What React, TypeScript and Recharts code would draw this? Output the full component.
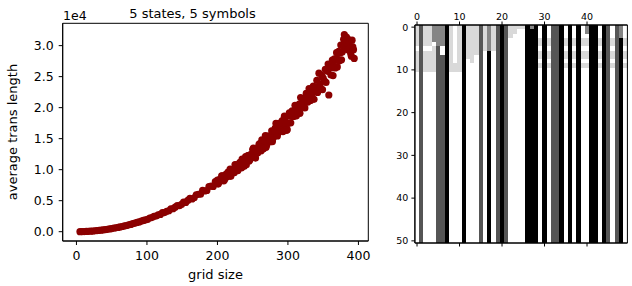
import React from 'react';
import { ScatterChart, Scatter, XAxis, YAxis, ReferenceArea } from 'recharts';

const gridSizes = [
  5, 8, 11, 14, 17, 20, 23, 26, 29, 32, 35, 38, 41, 44, 47, 50, 53, 56, 59, 62,
  65, 68, 71, 74, 77, 80, 83, 86, 89, 92, 95, 98, 101, 104, 107, 110, 113, 116, 119, 122,
  125, 128, 131, 134, 137, 140, 143, 146, 149, 152, 155, 158, 161, 164, 167, 170, 173, 176, 179, 182,
  185, 188, 191, 194, 197,
  200, 202, 204, 206, 208, 210, 212, 214, 216, 218, 220, 222, 224, 226, 228, 230, 232, 234, 236, 238,
  240, 242, 244, 246, 248, 250, 252, 254, 256, 258, 260, 262, 264, 266, 268, 270, 272, 274, 276, 278,
  280, 282, 284, 286, 288, 290, 292, 294, 296, 298,
  300, 301, 302, 304, 305, 306, 308, 309, 310, 312,
  313, 314, 316, 317, 318, 320, 321, 322, 324, 325,
  326, 328, 329, 330, 332, 333, 334, 336, 337, 338,
  340, 341, 342, 344, 345, 346, 348, 349, 350, 352,
  353, 354, 356, 357, 358, 360, 361, 362, 363, 364,
  365, 366, 367, 368, 369, 370, 371, 372, 373, 374, 375, 376, 377, 378, 379, 380, 381, 382, 383, 384,
  385, 386, 387, 388, 389, 390, 391, 392, 393, 394,
  201, 203, 205, 207, 209, 211, 213, 215, 217, 219, 221, 223, 225, 227, 229, 231, 233, 235, 237, 239,
  241, 243, 245, 247, 249, 251, 253, 255, 257, 259, 261, 263, 265, 267, 269, 271, 273, 275, 277, 279,
  281, 283, 285, 287, 289, 291, 293, 295, 297, 299,
];

const transLengths = [
  6, 13, 24, 39, 58, 81, 105, 136, 167, 206, 244, 291, 335, 390, 440, 503, 560, 630, 692, 775,
  840, 930, 1000, 1102, 1180, 1290, 1370, 1495, 1570, 1700, 1810, 1910, 2000, 2210, 2270, 2490, 2530, 2720, 2790, 3070,
  3090, 3300, 3380, 3700, 3700, 3960, 4210, 4180, 4400, 4760, 4720, 5050, 5390, 5270, 5470, 5950, 6040, 6050, 6660, 6560,
  6640, 7280, 7370, 7300, 8060,
  8320, 7920, 8410, 9000, 8480, 8380, 9260, 9160, 8960, 10080, 9580, 10050, 9530, 10730, 10090, 10690, 11200, 10290, 11140, 10540,
  12100, 11480, 12260, 11620, 12420, 13250, 12320, 11870, 13370, 13180, 14200, 13040, 14360, 14150, 15510, 14000, 15390, 14710, 15540, 14530,
  15840, 16700, 17420, 15870, 17090, 16650, 17910, 16600, 17870, 16340,
  17460, 18660, 19150, 17560, 18600, 19480, 18590, 19290, 20370, 18690,
  19990, 19520, 20570, 19090, 21640, 20070, 21430, 20740, 19950, 21550,
  22320, 20870, 21860, 23090, 21160, 22840, 22090, 23480, 21350, 23310,
  22660, 24420, 22460, 25560, 23800, 23220, 25190, 22900, 24750, 24290,
  26170, 24060, 25850, 27020, 22040, 26700, 25280, 26470, 27670, 25170,
  26650, 27860, 26400, 27630, 28870, 26560, 27800, 29060, 27550, 28810, 30090, 27710, 28990, 30010, 31030, 31770, 30190, 29480, 31390, 30380,
  29350, 30990, 30550, 29510, 28750, 28290, 30880, 29810, 29340, 27940,
  7680, 8410, 8320, 9000, 8210, 8990, 8800, 9610, 9230, 8920, 10060, 9550, 10830, 10310, 9860, 10990, 10640, 11710, 10780, 11540,
  10800, 12280, 11400, 12450, 12030, 13480, 12030, 13140, 12680, 14090, 13350, 14800, 13340, 14690, 13600, 15420, 14910, 14520, 16270, 15100,
  16270, 17460, 15430, 17460, 16370, 17610, 16140, 18620, 17470, 16450,
];

const xTicks = [0, 100, 200, 300, 400];
const yTicks = [0, 5000, 10000, 15000, 20000, 25000, 30000];

// tape image: one string per row, one digit per column (0 = black ... 4 = white)
const imageRows = [
  '31332220343033313231013333020404110404042004014124',
  '31332220343033313231013344000404110404042004014124',
  '31332220343033313231013444000404110404044004014124',
  '31332220343033313231014444000303110303033003013103',
  '31334220343033313231014444000303110303033003013103',
  '41443140343033313231014444000404110404044004014104',
  '31333140343033314041014444000303110303033003013103',
  '31333110343033414041014444000303110303033003013103',
  '31333110343043414041014444000404110404044004014104',
  '31333110333044414041014444000303110303033003013103',
  '31333110333044414041014444000404110404044004014104',
  '41444110444044414041014444000404110404044004014104',
  '41444110444044414041014444000404110404044004014104',
  '41444110444044414041014444000404110404044004014104',
  '41444110444044414041014444000404110404044004014104',
  '41444110444044414041014444000404110404044004014104',
  '41444110444044414041014444000404110404044004014104',
  '41444110444044414041014444000404110404044004014104',
  '41444110444044414041014444000404110404044004014104',
  '41444110444044414041014444000404110404044004014104',
  '41444110444044414041014444000404110404044004014104',
  '41444110444044414041014444000404110404044004014104',
  '41444110444044414041014444000404110404044004014104',
  '41444110444044414041014444000404110404044004014104',
  '41444110444044414041014444000404110404044004014104',
  '41444110444044414041014444000404110404044004014104',
  '41444110444044414041014444000404110404044004014104',
  '41444110444044414041014444000404110404044004014104',
  '41444110444044414041014444000404110404044004014104',
  '41444110444044414041014444000404110404044004014104',
  '41444110444044414041014444000404110404044004014104',
  '41444110444044414041014444000404110404044004014104',
  '41444110444044414041014444000404110404044004014104',
  '41444110444044414041014444000404110404044004014104',
  '41444110444044414041014444000404110404044004014104',
  '41444110444044414041014444000404110404044004014104',
  '41444110444044414041014444000404110404044004014104',
  '41444110444044414041014444000404110404044004014104',
  '41444110444044414041014444000404110404044004014104',
  '41444110444044414041014444000404110404044004014104',
  '41444110444044414041014444000404110404044004014104',
  '41444110444044414041014444000404110404044004014104',
  '41444110444044414041014444000404110404044004014104',
  '41444110444044414041014444000404110404044004014104',
  '41444110444044414041014444000404110404044004014104',
  '41444110444044414041014444000404110404044004014104',
  '41444110444044414041014444000404110404044004014104',
  '41444110444044414041014444000404110404044004014104',
  '41444110444044414041014444000404110404044004014104',
  '41444110444044414041014444000404110404044004014104',
  '41444110444044414041014444000404110404044004014104',
];
const colTicks = [0, 10, 20, 30, 40];
const rowTicks = [0, 10, 20, 30, 40, 50];
const cellColors = ['#000000', '#555555', '#858585', '#d9d9d9', '#ffffff'];

const FONT = '"DejaVu Sans", sans-serif';
const INK = '#000';

const scatterData = gridSizes.map((g, i) => ({ x: g, y: transLengths[i] }));

const nCols = imageRows[0].length;
const nRows = imageRows.length;

type Run = { c: number; r0: number; r1: number; v: number };
const runs: Run[] = [];
for (let c = 0; c < nCols; c++) {
  let start = 0;
  for (let r = 1; r <= nRows; r++) {
    if (r === nRows || imageRows[r][c] !== imageRows[start][c]) {
      const v = Number(imageRows[start][c]);
      if (v !== 4) runs.push({ c, r0: start, r1: r - 1, v });
      start = r;
    }
  }
}
const anchorPts = [{ x: 0, y: 0 }, { x: nCols - 1, y: nRows - 1 }];

const Dot = (p: any) => <circle cx={p.cx} cy={p.cy} r={3.6} fill="#8b0000" />;
const NoDot = () => <g />;

const CellShape = (p: any) => (
  <rect x={p.x} y={p.y} width={p.width} height={p.height} fill={p.fill} shapeRendering="crispEdges" />
);

export default function App() {
  const tickStyle = { fill: INK, fontSize: 12.5, fontFamily: FONT };
  const smallTick = { fill: INK, fontSize: 9.5, fontFamily: FONT };
  return (
    <div style={{ position: 'absolute', left: 0, top: 0, width: 632, height: 286, background: '#fff' }}>
      <div style={{ position: 'absolute', left: 0, top: 0 }}>
        <ScatterChart width={380} height={286} margin={{ top: 23.3, right: 11.7, bottom: 0, left: 0 }}>
          <XAxis
            type="number"
            dataKey="x"
            domain={[-19.5, 414]}
            ticks={xTicks}
            interval={0}
            allowDataOverflow
            height={45}
            tickSize={4}
            tickMargin={6}
            axisLine={{ stroke: INK }}
            tickLine={{ stroke: INK }}
            tick={tickStyle}
          />
          <YAxis
            type="number"
            dataKey="y"
            domain={[-1500, 33600]}
            ticks={yTicks}
            interval={0}
            allowDataOverflow
            width={62.7}
            tickSize={4}
            tickMargin={5}
            tickFormatter={(v: number) => (v / 10000).toFixed(1)}
            axisLine={{ stroke: INK }}
            tickLine={{ stroke: INK }}
            tick={tickStyle}
          />
          <Scatter data={scatterData} isAnimationActive={false} shape={Dot} />
          <ReferenceArea x1={-19.5} x2={414} y1={-1500} y2={33600} fill="none" fillOpacity={0} stroke={INK} strokeWidth={1} />
        </ScatterChart>
      </div>
      <div style={{ position: 'absolute', left: 380, top: 0 }}>
        <ScatterChart width={252} height={286} margin={{ top: 0, right: 4.6, bottom: 33, left: 0 }}>
          <XAxis
            xAxisId="t"
            orientation="top"
            type="number"
            dataKey="x"
            domain={[-0.5, nCols - 0.5]}
            ticks={colTicks}
            interval={0}
            allowDataOverflow
            height={25}
            tickSize={3.5}
            tickMargin={2}
            axisLine={{ stroke: INK }}
            tickLine={{ stroke: INK }}
            tick={smallTick}
          />
          <XAxis
            xAxisId="b"
            orientation="bottom"
            type="number"
            dataKey="x"
            domain={[-0.5, nCols - 0.5]}
            ticks={colTicks}
            interval={0}
            allowDataOverflow
            height={10}
            tickSize={3.5}
            tickFormatter={() => ''}
            axisLine={{ stroke: INK }}
            tickLine={{ stroke: INK }}
            tick={smallTick}
          />
          <YAxis
            yAxisId="l"
            type="number"
            dataKey="y"
            domain={[-0.5, nRows - 0.5]}
            reversed
            ticks={rowTicks}
            interval={0}
            allowDataOverflow
            width={34.9}
            tickSize={3.5}
            tickMargin={3}
            axisLine={{ stroke: INK }}
            tickLine={{ stroke: INK }}
            tick={smallTick}
          />
          <Scatter xAxisId="t" yAxisId="l" data={anchorPts} isAnimationActive={false} shape={NoDot} />
          <Scatter xAxisId="b" yAxisId="l" data={anchorPts} isAnimationActive={false} shape={NoDot} />
          {runs.map((r, i) => (
            <ReferenceArea
              key={i}
              xAxisId="t"
              yAxisId="l"
              x1={r.c - 0.5}
              x2={r.c + 0.5}
              y1={r.r0 - 0.5}
              y2={r.r1 + 0.5}
              fill={cellColors[r.v]}
              fillOpacity={1}
              stroke="none"
              shape={CellShape}
            />
          ))}
          <ReferenceArea xAxisId="t" yAxisId="l" x1={-0.5} x2={nCols - 0.5} y1={-0.5} y2={nRows - 0.5} fill="none" fillOpacity={0} stroke={INK} strokeWidth={1} />
        </ScatterChart>
      </div>
      <svg width={632} height={286} style={{ position: 'absolute', left: 0, top: 0, pointerEvents: 'none' }}>
        <text x={192.5} y={17.7} textAnchor="middle" fontFamily={FONT} fontSize={13} fill={INK}>5 states, 5 symbols</text>
        <text x={63} y={20} textAnchor="start" fontFamily={FONT} fontSize={12.5} fill={INK}>1e4</text>
        <text x={215.5} y={279} textAnchor="middle" fontFamily={FONT} fontSize={13} fill={INK}>grid size</text>
        <text transform="translate(16.5,132) rotate(-90)" textAnchor="middle" fontFamily={FONT} fontSize={13} fill={INK}>average trans length</text>
      </svg>
    </div>
  );
}
